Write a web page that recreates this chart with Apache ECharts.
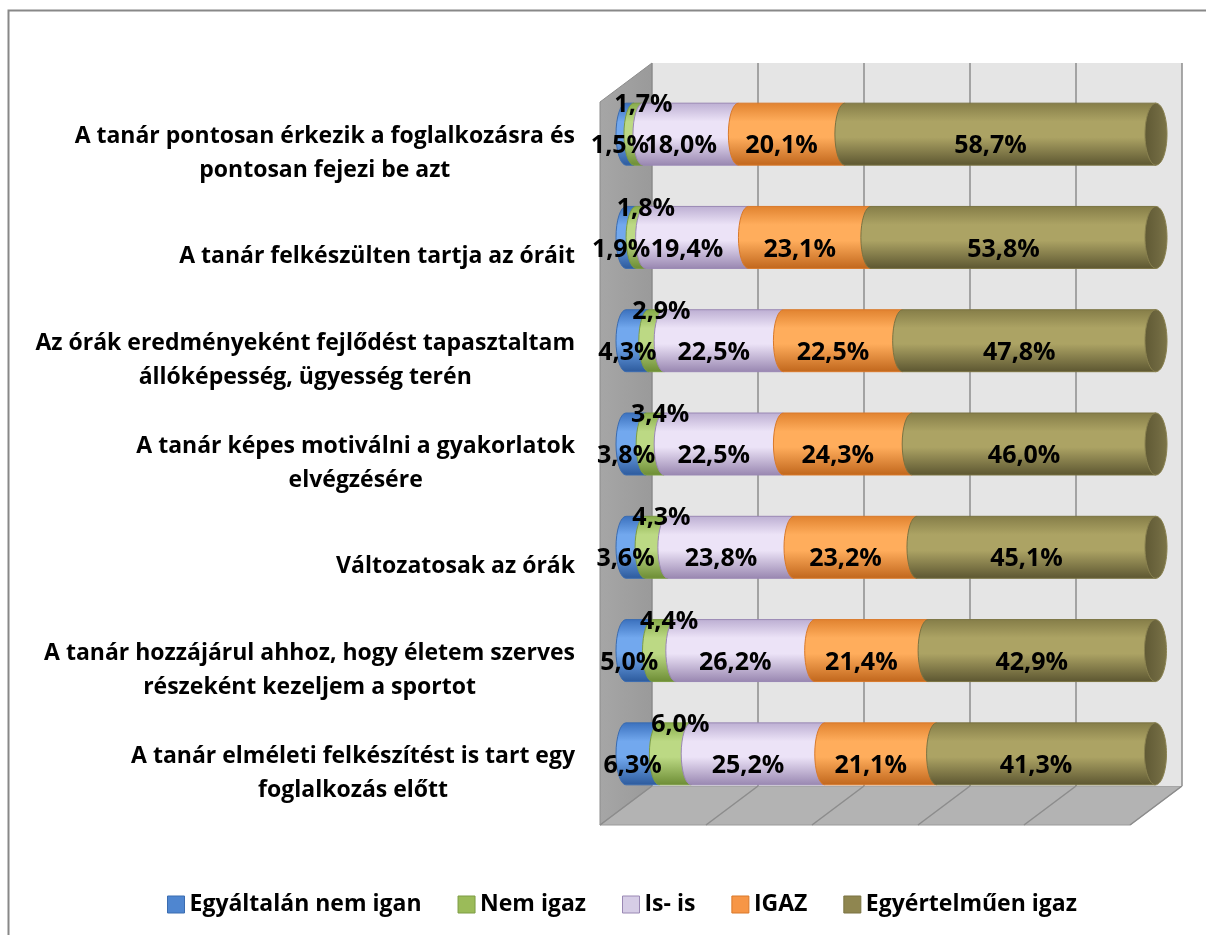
<!DOCTYPE html>
<html>
<head>
    <meta charset="utf-8">
    <title>ECharts</title>
    <script src="https://cdn.jsdelivr.net/npm/echarts@6/dist/echarts.min.js"></script>
</head>
<body style="margin:0">
<div id="main" style="width:1206px;height:935px;"></div>
<script type="text/javascript">
    // kategóriák (felülről lefelé)
    var categories = [
        'A tanár pontosan érkezik a foglalkozásra és\npontosan fejezi be azt',
        'A tanár felkészülten tartja az óráit',
        'Az órák eredményeként fejlődést tapasztaltam\nállóképesség, ügyesség terén',
        'A tanár képes motiválni a gyakorlatok\nelvégzésére',
        'Változatosak az órák',
        'A tanár hozzájárul ahhoz, hogy életem szerves\nrészeként kezeljem a sportot',
        'A tanár elméleti felkészítést is tart egy\nfoglalkozás előtt'
    ];
    var seriesNames = ['Egyáltalán nem igan', 'Nem igaz', 'Is- is', 'IGAZ', 'Egyértelműen igaz'];
    var nemIgan = [1.5, 1.9, 4.3, 3.8, 3.6, 5.0, 6.3];
    var nemIgaz = [1.7, 1.8, 2.9, 3.4, 4.3, 4.4, 6.0];
    var isIs = [18.0, 19.4, 22.5, 22.5, 23.8, 26.2, 25.2];
    var igaz = [20.1, 23.1, 22.5, 24.3, 23.2, 21.4, 21.1];
    var egyertelmuen = [58.7, 53.8, 47.8, 46.0, 45.1, 42.9, 41.3];
    var xTicks = [0, 20, 40, 60, 80, 100];

    var values = [nemIgan, nemIgaz, isIs, igaz, egyertelmuen];

    // színek: [felső, fény, alsó, keret]
    var colors = [
        ['#3a70bd', '#72a8ee', '#2c5a9c', '#3b6cb0'],
        ['#86ab48', '#bcd984', '#6c8c34', '#7c9c44'],
        ['#bcaed2', '#ece3f7', '#9886b0', '#9a88b4'],
        ['#e0822f', '#ffad5c', '#c0661c', '#d9792a'],
        ['#857d48', '#aca364', '#5c5631', '#7a7342']
    ];
    var legendColors = ['#4f86d0', '#9bbb59', '#d6cde6', '#f79646', '#8f8650'];
    var FONT = 'Open Sans';

    // 3D keret geometria
    var wall = {left: 652, top: 63, width: 530, height: 723};
    var depth = [52, 39];

    function fmt(v) {
        return v.toFixed(1).replace('.', ',') + '%';
    }

    function grad(c) {
        return new echarts.graphic.LinearGradient(0, 0, 0, 1, [
            {offset: 0, color: c[0]},
            {offset: 0.3, color: c[1]},
            {offset: 0.55, color: c[1]},
            {offset: 1, color: c[2]}
        ]);
    }

    function makeRender(k) {
        return function (params, api) {
            var row = api.value(0), s = api.value(1), e = api.value(2), v = api.value(3);
            var a = api.coord([s, row]);
            var b = api.coord([e, row]);
            var h = api.size([0, 1])[1] * 0.6;
            var top = a[1] - h / 2, bot = a[1] + h / 2, rx = 10;
            var c = colors[k];
            var children = [{
                type: 'path',
                shape: {
                    pathData: 'M' + a[0] + ' ' + top + 'L' + b[0] + ' ' + top + 'L' + b[0] + ' ' + bot +
                        'L' + a[0] + ' ' + bot + 'A' + rx + ' ' + (h / 2) + ' 0 0 1 ' + a[0] + ' ' + top + 'Z'
                },
                style: {fill: grad(c), stroke: c[3], lineWidth: 1}
            }];
            if (k === values.length - 1) {
                children.push({
                    type: 'ellipse',
                    shape: {cx: b[0], cy: a[1], rx: rx + 1, ry: h / 2},
                    style: {
                        fill: new echarts.graphic.LinearGradient(0, 0, 1, 0, [
                            {offset: 0, color: '#5f5934'},
                            {offset: 0.6, color: '#6f6840'},
                            {offset: 1, color: '#7c7548'}
                        ]),
                        stroke: '#8a8250', lineWidth: 1
                    }
                });
            }
            var lx = (a[0] + b[0]) / 2 - 10, ly = a[1] + 12;
            if (k === 1) {
                lx = (a[0] + b[0]) / 2 + 5;
                ly = a[1] - 29;
            }
            children.push({
                type: 'text',
                z2: 100,
                style: {
                    legacy: false,
                    text: fmt(v), x: lx, y: ly, align: 'center', verticalAlign: 'middle',
                    font: 'bold 25px "' + FONT + '"',
                    fontFamily: FONT, fontWeight: 'bold', fontSize: 25, fill: '#000'
                }
            });
            return {type: 'group', children: children};
        };
    }

    var series = values.map(function (arr, k) {
        var data = arr.map(function (v, i) {
            var s = 0;
            for (var j = 0; j < k; j++) s += values[j][i];
            return [i, s, s + v, v];
        });
        return {
            name: seriesNames[k],
            type: 'custom',
            xAxisIndex: 1,
            yAxisIndex: 1,
            renderItem: makeRender(k),
            encode: {x: [1, 2], y: 0},
            itemStyle: {color: legendColors[k]},
            data: data
        };
    });

    var floorLines = xTicks.map(function (t) {
        var x = wall.left + wall.width * t / 100;
        var y = wall.top + wall.height;
        return {
            type: 'line', z: -4,
            shape: {x1: x, y1: y, x2: x - depth[0], y2: y + depth[1]},
            style: {stroke: '#8c8c8c', lineWidth: 1.5}
        };
    });

    var myChart = echarts.init(document.getElementById('main'));
    var option = {
        backgroundColor: '#fff',
        animation: false,
        textStyle: {fontFamily: FONT},
        graphic: [
            {
                type: 'rect', z: -10,
                shape: {x: 8.5, y: 10.5, width: 1220, height: 950},
                style: {fill: 'none', stroke: '#888', lineWidth: 2}
            },
            {
                type: 'polygon', z: -5,
                shape: {
                    points: [
                        [wall.left - depth[0], wall.top + depth[1]], [wall.left, wall.top],
                        [wall.left, wall.top + wall.height], [wall.left - depth[0], wall.top + wall.height + depth[1]]
                    ]
                },
                style: {
                    fill: new echarts.graphic.LinearGradient(0, 0, 1, 0, [
                        {offset: 0, color: '#a6a6a6'}, {offset: 1, color: '#9a9a9a'}
                    ]), stroke: '#8c8c8c', lineWidth: 1
                }
            },
            {
                type: 'polygon', z: -5,
                shape: {
                    points: [
                        [wall.left, wall.top + wall.height], [wall.left + wall.width, wall.top + wall.height],
                        [wall.left + wall.width - depth[0], wall.top + wall.height + depth[1]],
                        [wall.left - depth[0], wall.top + wall.height + depth[1]]
                    ]
                },
                style: {fill: '#b3b3b3', stroke: '#9a9a9a', lineWidth: 1}
            }
        ].concat(floorLines),
        legend: {
            bottom: 14,
            left: 162,
            itemWidth: 17,
            itemHeight: 17,
            itemGap: 36,
            icon: 'rect',
            textStyle: {fontFamily: FONT, fontWeight: 'bold', fontSize: 23, color: '#000'},
            data: seriesNames.map(function (n, k) {
                return {name: n, itemStyle: {color: legendColors[k], borderColor: colors[k][3], borderWidth: 1}};
            })
        },
        grid: [
            {
                left: wall.left, top: wall.top, width: wall.width, height: wall.height,
                show: true, backgroundColor: '#e5e5e5', borderWidth: 0
            },
            {
                left: wall.left - depth[0] / 2, top: wall.top + depth[1] / 2,
                width: wall.width, height: wall.height
            },
            {
                left: wall.left - depth[0], top: wall.top + depth[1],
                width: wall.width, height: wall.height
            }
        ],
        xAxis: [
            {
                gridIndex: 0, type: 'value', min: 0, max: 100, interval: 20,
                axisLine: {show: false}, axisTick: {show: false}, axisLabel: {show: false},
                splitLine: {show: true, lineStyle: {color: '#8c8c8c', width: 1.5}}
            },
            {gridIndex: 1, type: 'value', min: 0, max: 100, show: false},
            {gridIndex: 2, type: 'value', min: 0, max: 100, show: false}
        ],
        yAxis: [
            {gridIndex: 0, type: 'category', data: categories, inverse: true, show: false},
            {gridIndex: 1, type: 'category', data: categories, inverse: true, show: false},
            {
                gridIndex: 2, type: 'category', data: categories, inverse: true,
                axisLine: {show: false}, axisTick: {show: false}, splitLine: {show: false},
                axisLabel: {
                    margin: 25,
                    formatter: function (v) {
                        return v.split('\n').map(function (l) { return '{c|' + l + '}'; }).join('\n');
                    },
                    rich: {
                        c: {
                            align: 'center', fontFamily: FONT, fontWeight: 'bold',
                            fontSize: 23, lineHeight: 34, color: '#000'
                        }
                    }
                }
            }
        ],
        series: series
    };
    myChart.setOption(option);
</script>
</body>
</html>
